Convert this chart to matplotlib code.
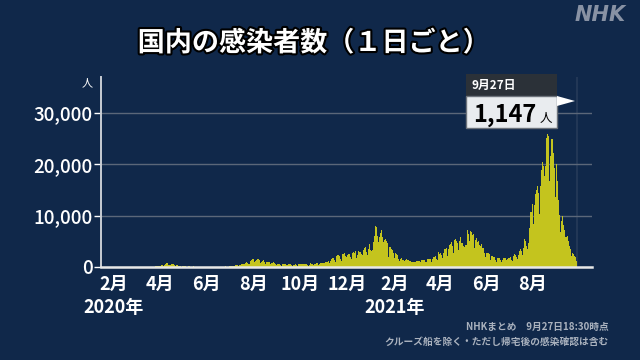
import matplotlib
matplotlib.use("Agg")
import matplotlib.pyplot as plt
import matplotlib.patheffects as pe
from matplotlib.patches import Rectangle, Polygon
import pandas as pd

plt.rcParams["font.family"] = ["Noto Sans CJK JP", "DejaVu Sans"]

# daily new cases (NHK count), from 2020-01-16 to 2021-09-27
jan20 = [1, 0, 0, 0, 0, 0, 0, 0, 1, 1, 1, 0, 3, 1, 4, 3]
feb20 = [0, 0, 0, 0, 0, 0, 0, 0, 0, 0, 0, 0, 1, 7, 9, 5, 6, 5, 3, 12,
         8, 9, 3, 5, 14, 11, 18, 20, 11]
mar20 = [14, 13, 19, 28, 33, 59, 47, 33, 26, 54, 52, 56, 41, 64, 15, 24, 44, 39, 35, 53,
         39, 42, 38, 64, 93, 96, 112, 200, 173, 86, 225]
apr20 = [266, 278, 353, 367, 383, 252, 350, 511, 578, 690, 720, 580, 403, 351, 457, 549, 584, 553, 568, 391,
         357, 291, 438, 447, 344, 203, 190, 264, 160, 96]
may20 = [165, 271, 203, 174, 124, 93, 96, 86, 107, 101, 55, 83, 54, 55, 99, 38, 31, 29, 31, 31,
         29, 33, 32, 26, 21, 20, 38, 41, 48, 44, 47]
jun20 = [36, 51, 40, 45, 39, 45, 35, 38, 41, 38, 42, 41, 45, 47, 43, 42, 54, 41, 68, 40,
         58, 45, 33, 55, 49, 105, 92, 111, 59, 86]
jul20 = [124, 141, 249, 274, 207, 102, 207, 208, 354, 430, 416, 409, 259, 330, 450, 622, 590, 662, 511, 417,
         632, 791, 981, 779, 836, 597, 597, 982, 1264, 1301, 1578]
aug20 = [1535, 1331, 950, 1237, 1354, 1488, 1605, 1565, 1441, 823, 701, 972, 1176, 1357, 1233, 1023, 610, 1025, 1086, 976,
         1028, 912, 733, 505, 695, 854, 848, 882, 833, 588, 437]
sep20 = [631, 596, 558, 564, 475, 456, 288, 505, 603, 648, 545, 580, 435, 286, 448, 496, 581, 573, 528, 413,
         287, 239, 442, 485, 550, 630, 474, 269, 511, 580]
oct20 = [624, 595, 619, 515, 330, 496, 514, 621, 690, 578, 416, 250, 442, 547, 691, 637, 623, 387, 308, 589,
         603, 680, 703, 704, 433, 424, 512, 682, 795, 854, 744]
nov20 = [846, 851, 945, 1085, 1048, 1050, 1197, 957, 774, 1178, 1539, 1660, 1706, 1737, 1441, 951, 1693, 2201, 2386, 2425,
         2424, 2168, 1519, 1228, 1944, 2502, 2506, 2676, 2067, 1433]
dec20 = [2026, 2433, 2514, 2416, 2442, 2007, 1506, 2058, 2811, 2971, 2792, 3041, 2380, 1680, 2392, 3059, 3000, 2834, 2995, 2486,
         1700, 2432, 3262, 3744, 3831, 3865, 2987, 2313, 3602, 3881, 4520]
jan21 = [3238, 3046, 3154, 3330, 4905, 5948, 7570, 7957, 7844, 6100, 4880, 4570, 5870, 6604, 7133, 6014, 5750, 4925, 5320, 5644,
         5538, 5128, 4705, 3990, 1974, 3854, 3962, 3541, 3480, 3356, 2659]
feb21 = [1784, 2316, 2644, 2574, 2271, 1832, 1555, 1248, 1545, 1734, 1877, 1459, 1360, 1165, 1275, 1311, 1533, 1309, 1308, 1373,
         1077, 1080, 734, 1069, 1052, 1026, 1031, 1125]
mar21 = [1039, 1073, 1114, 1149, 1092, 1225, 1068, 1120, 1317, 1308, 1287, 1350, 1327, 967, 1020, 1490, 1503, 1482, 1495, 1472,
         1118, 1053, 1504, 1911, 1914, 1970, 2064, 1605, 1443, 2236, 2837]
apr21 = [2586, 2772, 2757, 2432, 1761, 2672, 3451, 3437, 3451, 3697, 2781, 2125, 3459, 4310, 4570, 4532, 4797, 4091, 2746, 4211,
         5292, 5505, 5116, 5607, 4616, 3308, 5013, 5791, 4657, 4677]
may21 = [4761, 4164, 4433, 3838, 4218, 4345, 6054, 7244, 6478, 5110, 6227, 7046, 6859, 6260, 6419, 5228, 3680, 5236, 5715, 5258,
         4775, 5062, 4236, 2940, 4137, 4447, 3765, 3772, 3445, 2729, 1967]
jun21 = [2654, 3133, 2797, 2721, 2480, 1943, 1276, 2167, 2232, 2137, 1978, 2007, 1388, 1020, 1433, 1712, 1774, 1741, 1518, 1304,
         937, 1427, 1763, 1745, 1660, 1727, 1326, 1018, 1567, 1809]
jul21 = [1798, 1917, 1993, 1456, 1159, 1996, 2193, 2500, 2260, 2301, 1862, 1467, 2380, 3194, 3418, 3414, 3092, 2327, 1400, 3759,
         5395, 5001, 4225, 4058, 3574, 4692, 7629, 9576, 10699, 10792, 12341]
aug21 = [10042, 8395, 12019, 14207, 15263, 14948, 15753, 14472, 12071, 10356, 15808, 18889, 20366, 20151, 19693, 17792, 19759, 23917, 25148, 25876,
         25491, 22261, 16812, 21570, 24956, 24935, 22747, 22285, 19297, 13622, 17744]
sep21 = [20022, 16762, 12998, 13507, 10125, 6812, 8896, 10392, 9919, 8222, 7225, 5778, 4368, 5769, 6005, 5022, 4164, 4060, 3435, 2215,
         1768, 2637, 2549, 2061, 1994, 1562, 1147]

months = [jan20, feb20, mar20, apr20, may20, jun20, jul20, aug20, sep20, oct20, nov20, dec20,
          jan21, feb21, mar21, apr21, may21, jun21, jul21, aug21, sep21]
cases = [v for m in months for v in m]
dates = pd.date_range("2020-01-16", periods=len(cases), freq="D")

tick_dates = ["2020-02-01", "2020-04-01", "2020-06-01", "2020-08-01", "2020-10-01", "2020-12-01",
              "2021-02-01", "2021-04-01", "2021-06-01", "2021-08-01"]
tick_labels = ["2月", "4月", "6月", "8月", "10月", "12月", "2月", "4月", "6月", "8月"]
year_dates = ["2020-02-01", "2021-02-01"]
year_labels = ["2020年", "2021年"]
y_ticks = [0, 10000, 20000, 30000]

bg = "#10284a"
fig = plt.figure(figsize=(6.4, 3.6), dpi=100, facecolor=bg)
ax = fig.add_axes([101 / 640, 93 / 360, 491 / 640, 190 / 360], facecolor=bg)

ax.bar(dates, cases, width=1.0, color="#c4c41e", edgecolor="none", zorder=3)
ax.axvline(dates[-1], color="#263b59", lw=1.2, zorder=1)

ax.set_ylim(0, 37000)
ax.set_xlim(dates[0] - pd.Timedelta(hours=12), dates[0] + pd.Timedelta(days=640))

ax.set_yticks(y_ticks)
ax.set_yticklabels([f"{v:,}" for v in y_ticks])
ax.tick_params(axis="y", colors="white", labelsize=13.5, length=5, width=1, pad=1)
ax.tick_params(axis="x", colors="white", labelsize=13, length=0, pad=6)
ax.set_xticks(pd.to_datetime(tick_dates))
ax.set_xticklabels(tick_labels, fontweight="bold")
for lab in ax.get_yticklabels():
    lab.set_fontweight("medium")
ax.grid(axis="y", color="#5b6779", lw=1.0, zorder=2)

for s in ["top", "right"]:
    ax.spines[s].set_visible(False)
ax.spines["left"].set_color("#c9cdd3")
ax.spines["left"].set_linewidth(1.4)
ax.spines["bottom"].set_color("#e8e8e8")
ax.spines["bottom"].set_linewidth(1.8)
ax.spines["bottom"].set_zorder(4)

for d, t in zip(year_dates, year_labels):
    ax.text(pd.Timestamp(d), -0.215, t, transform=ax.get_xaxis_transform(), ha="center", va="center",
            color="white", fontsize=13, fontweight="bold")

fig.text(87 / 640, 1 - 83 / 360, "人", color="white", fontsize=8, ha="center", va="center")

title = fig.text(314 / 640, 1 - 43 / 360, "国内の感染者数（１日ごと）", color="white", fontsize=19.5,
                 fontweight="bold", ha="center", va="center")
title.set_path_effects([pe.withStroke(linewidth=3, foreground="black")])
fig.text(600 / 640, 1 - 15 / 360, "NHK", color="#8892a4", fontsize=15, fontweight="bold",
         fontstyle="italic", family="DejaVu Sans", ha="center", va="center")

fig.text(609 / 640, 1 - 327 / 360, "NHKまとめ　9月27日18:30時点", color="#aab2be", fontsize=7,
         fontweight="bold", ha="right", va="center")
fig.text(609 / 640, 1 - 342 / 360, "クルーズ船を除く・ただし帰宅後の感染確認は含む", color="#aab2be", fontsize=7,
         fontweight="bold", ha="right", va="center")

# tooltip for the last day
def px(x, y):
    return x / 640, 1 - y / 360

fig.add_artist(Rectangle(px(466, 96), 91 / 640, 22 / 360, transform=fig.transFigure,
                         facecolor="#2b3138", edgecolor="none", zorder=10))
fig.add_artist(Rectangle(px(466, 128), 91 / 640, 32 / 360, transform=fig.transFigure,
                         facecolor="#e9ecef", edgecolor="#6d737b", lw=1, zorder=10))
fig.add_artist(Polygon([px(557, 96), px(575, 101), px(557, 106)], closed=True,
                       transform=fig.transFigure, facecolor="white", edgecolor="none", zorder=10))
fig.text(*px(472, 85), f"{dates[-1].month}月{dates[-1].day}日", color="white", fontsize=8.5,
         fontweight="bold", ha="left", va="center", zorder=11)
fig.text(*px(473, 122), f"{cases[-1]:,}", color="black", fontsize=17, fontweight="bold",
         ha="left", va="baseline", zorder=11)
fig.text(*px(540, 122), "人", color="black", fontsize=9, ha="left", va="baseline", zorder=11)

fig.savefig("out.png", dpi=100, facecolor=bg)
